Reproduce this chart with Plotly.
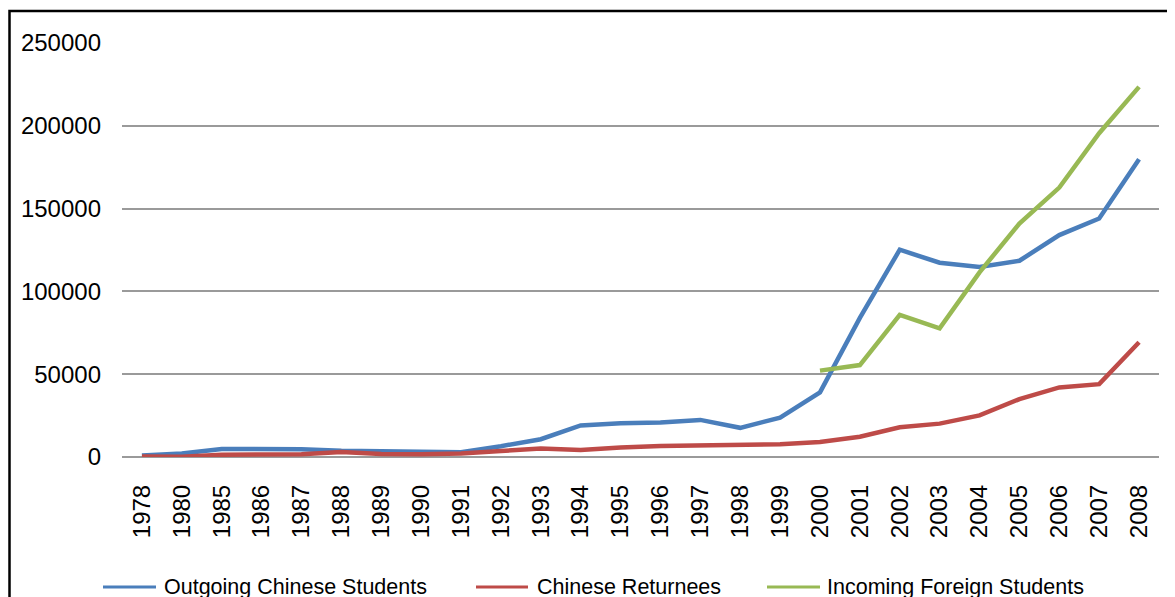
import plotly.graph_objects as go

years = ["1978", "1980", "1985", "1986", "1987", "1988", "1989", "1990", "1991", "1992",
         "1993", "1994", "1995", "1996", "1997", "1998", "1999", "2000", "2001", "2002",
         "2003", "2004", "2005", "2006", "2007", "2008"]

outgoing = [860, 2124, 4888, 4676, 4703, 3786, 3329, 2950, 2900, 6540,
            10742, 19071, 20381, 20905, 22410, 17622, 23749, 38989, 84000, 125179,
            117307, 114682, 118515, 134000, 144000, 179800]

returnees = [248, 162, 1424, 1388, 1605, 3000, 1753, 1593, 2069, 3611,
             5128, 4230, 5750, 6570, 7130, 7379, 7748, 9121, 12243, 17945,
             20152, 25117, 34987, 42000, 44000, 69300]

incoming_years = ["2000", "2001", "2002", "2003", "2004", "2005", "2006", "2007", "2008"]
incoming = [52150, 55500, 85800, 77700, 111500, 141000, 162700, 195500, 223500]

series_names = ["Outgoing Chinese Students", "Chinese Returnees", "Incoming Foreign Students"]
colors = ["#4a7ebb", "#be4b48", "#98b954"]

OFF = 8  # page body margin
W, H = 1175, 597
L, R, T, B = 114, 24, 35, 148
pw, ph = W - L - R, H - T - B

def px_x(p):
    return (p - OFF - L) / pw

def px_y(p):
    return (H - B - (p - OFF)) / ph

fig = go.Figure()
fig.add_trace(go.Scatter(x=years, y=outgoing, mode="lines", name=series_names[0],
                         line=dict(color=colors[0], width=4.5), showlegend=False))
fig.add_trace(go.Scatter(x=years, y=returnees, mode="lines", name=series_names[1],
                         line=dict(color=colors[1], width=4.5), showlegend=False))
fig.add_trace(go.Scatter(x=incoming_years, y=incoming, mode="lines", name=series_names[2],
                         line=dict(color=colors[2], width=4.5), showlegend=False))

font_family = "Liberation Sans, Arial, sans-serif"

fig.update_layout(
    width=W, height=H,
    margin=dict(l=L, r=R, t=T, b=B),
    paper_bgcolor="white", plot_bgcolor="white",
    xaxis=dict(type="category", categoryorder="array", categoryarray=years,
               range=[-0.5, len(years) - 0.5], tickangle=-90,
               tickfont=dict(family=font_family, size=24, color="#000000"),
               showgrid=False, showline=False, zeroline=False, ticks="",
               ticklabelstandoff=22),
    yaxis=dict(range=[0, 250000], tickvals=[0, 50000, 100000, 150000, 200000, 250000],
               ticktext=["0", "50000", "100000", "150000", "200000", "250000"],
               tickfont=dict(family=font_family, size=24, color="#000000"),
               showgrid=True, gridcolor="#9a9a9a", gridwidth=1.5,
               zeroline=True, zerolinecolor="#9a9a9a", zerolinewidth=1.5,
               showline=False, ticks="", ticklabelstandoff=20),
)

shapes = [dict(type="rect", xref="paper", yref="paper",
               x0=px_x(9.5), x1=px_x(1200), y0=px_y(640), y1=px_y(11),
               line=dict(color="black", width=2.5), fillcolor="rgba(0,0,0,0)", layer="above")]
annotations = []
leg_lines = [(103, 156), (476, 528), (767, 820)]
leg_text = [162, 535, 825]
leg_y = 587
for i in range(3):
    shapes.append(dict(type="line", xref="paper", yref="paper",
                       x0=px_x(leg_lines[i][0]), x1=px_x(leg_lines[i][1]),
                       y0=px_y(leg_y), y1=px_y(leg_y),
                       line=dict(color=colors[i], width=3)))
    annotations.append(dict(xref="paper", yref="paper", x=px_x(leg_text[i]), y=px_y(leg_y),
                            xanchor="left", yanchor="middle", showarrow=False,
                            text=series_names[i],
                            font=dict(family=font_family, size=21.5, color="#000000")))
fig.update_layout(shapes=shapes, annotations=annotations)

fig.write_html("out.html")
